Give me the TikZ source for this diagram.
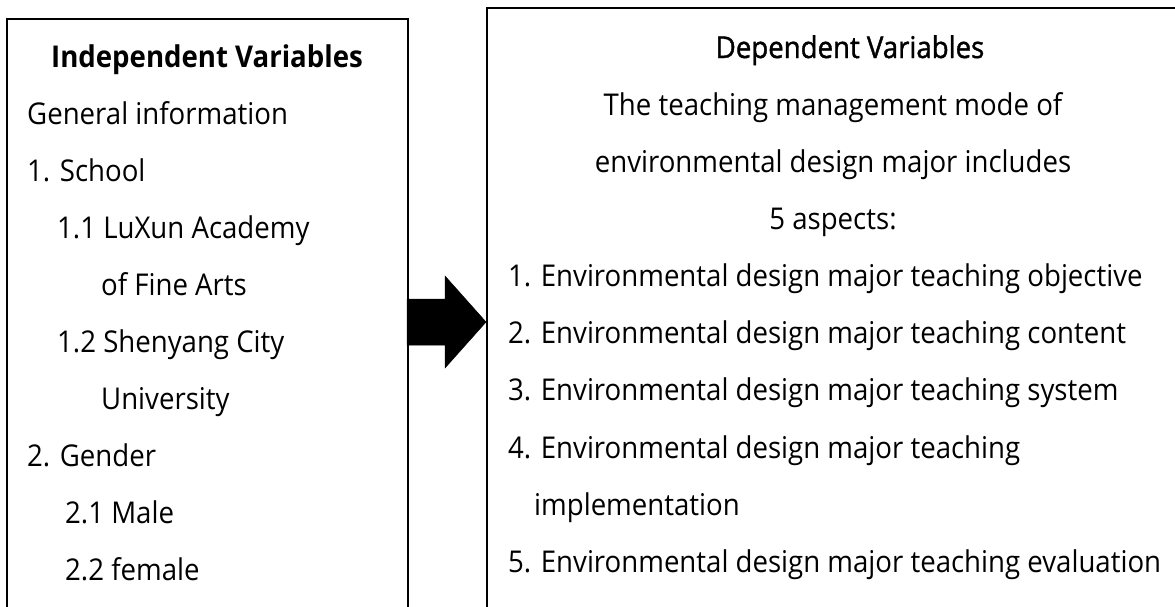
\documentclass[tikz,border=0pt]{standalone}
\usepackage{fontspec}
\setmainfont{Open Sans}[FakeStretch=0.92]
\newfontfamily\medfont{Open Sans}[FakeStretch=0.92,FakeBold=1.3]
\begin{document}
\begin{tikzpicture}[x=1pt,y=-1pt,
  txt/.style={anchor=base west, inner sep=0pt, font=\fontsize{30}{36}\selectfont},
  ctxt/.style={anchor=base, inner sep=0pt, font=\fontsize{30}{36}\selectfont},
  ttl/.style={anchor=base, inner sep=0pt, font=\fontsize{30}{36}\selectfont\bfseries},
  mttl/.style={anchor=base, inner sep=0pt, font=\fontsize{30}{36}\medfont},
  frame/.style={draw=black, line width=2.2pt, inner sep=0pt, anchor=north west},
  bigarrow/.style={fill=black, draw=black, line width=0.5pt, line join=miter}]
\useasboundingbox (0,0) rectangle (1175,606);
\clip (0,0) rectangle (1175,606);
% boxes (open at the bottom / right edge of the picture)
\node[frame, minimum width=401pt, minimum height=640pt] (indep) at (6,18) {};
\node[frame, minimum width=740pt, minimum height=650pt] (dep) at (486,7) {};
% arrow
\coordinate (tip) at (486,322);
\draw[bigarrow] (407,299) -- (445,299) -- (445,276) -- (tip) -- (445,368) -- (445,345) -- (407,345) -- cycle;
% left texts
\node[ttl] (l0) at (207,67) {Independent Variables};
\node[txt] (l1) at (27,124) {General information};
\node[txt] (l2) at (27,181) {1. School};
\node[txt] (l3) at (57,238) {1.1 LuXun Academy};
\node[txt] (l4) at (101,295) {of Fine Arts};
\node[txt] (l5) at (57,352) {1.2 Shenyang City};
\node[txt] (l6) at (101,409) {University};
\node[txt] (l7) at (27,466) {2. Gender};
\node[txt] (l8) at (65,523) {2.1 Male};
\node[txt] (l9) at (65,580) {2.2 female};
% right texts
\node[mttl] (r0) at (850,58) {Dependent Variables};
\node[ctxt] (r1) at (833,115) {The teaching management mode of};
\node[ctxt] (r2) at (833,172) {environmental design major includes};
\node[ctxt] (r3) at (833,229) {5 aspects:};
\node[txt] (r4) at (508,286) {1. Environmental design major teaching objective};
\node[txt] (r5) at (508,343) {2. Environmental design major teaching content};
\node[txt] (r6) at (508,400) {3. Environmental design major teaching system};
\node[txt] (r7) at (508,458) {4. Environmental design major teaching};
\node[txt] (r8) at (534,515) {implementation};
\node[txt] (r9) at (508,572) {5. Environmental design major teaching evaluation};
\end{tikzpicture}
\end{document}
